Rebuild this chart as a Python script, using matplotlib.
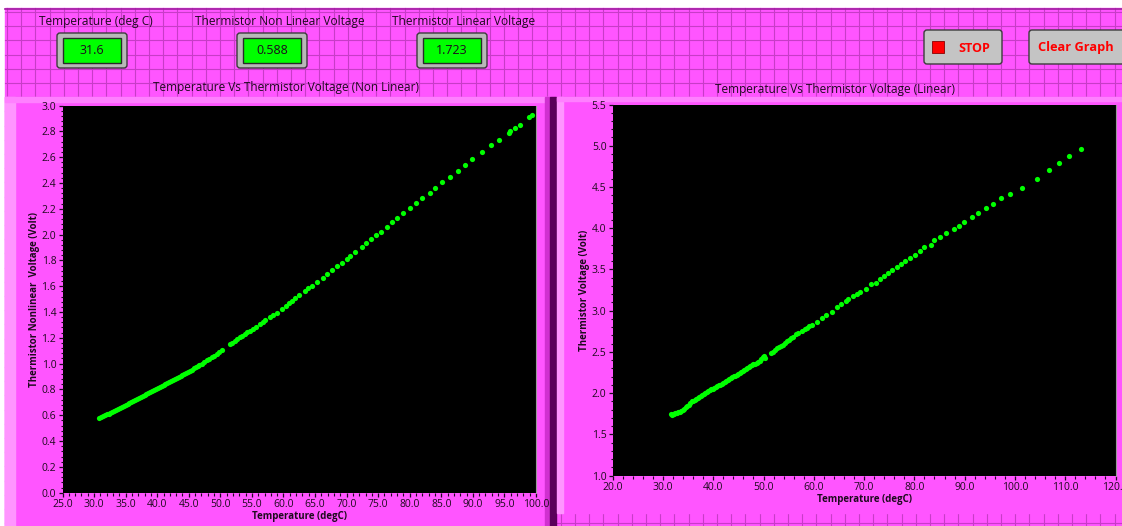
import numpy as np
import matplotlib
matplotlib.use("Agg")
import matplotlib.pyplot as plt
from matplotlib.patches import Rectangle, FancyBboxPatch
from matplotlib.ticker import MultipleLocator, FormatStrFormatter

W, H = 1122, 526

# readouts shown on the panel
temp_now = "31.6"
nonlin_now = "0.588"
lin_now = "1.723"

# temperature (degC) vs non linear thermistor voltage (V)
nl_temp = [30.8, 31.1, 31.4, 31.7, 32.0, 32.3, 32.6, 32.9, 33.2, 33.5,
           33.8, 34.1, 34.4, 34.7, 35.0, 35.3, 35.6, 35.9, 36.2, 36.5,
           36.8, 37.1, 37.4, 37.7, 38.0, 38.3, 38.6, 38.9, 39.2, 39.5,
           39.8, 40.1, 40.4, 40.7, 41.0, 41.3, 41.6, 41.9, 42.2, 42.5,
           42.8, 43.1, 43.4, 43.7, 44.0, 44.3, 44.6, 44.9, 45.2, 45.5,
           45.8, 46.1, 46.4, 46.7, 47.05, 47.4, 47.84, 48.2, 48.64, 49.0,
           49.43, 49.8, 50.22, 51.53, 51.9, 52.33, 52.7, 53.12, 53.5, 53.91,
           54.3, 54.7, 55.2, 55.65, 56.28, 56.7, 57.08, 57.87, 58.4, 58.93,
           59.72, 60.4, 60.9, 61.31, 61.83, 62.51, 63.41, 63.94, 64.47, 65.27,
           66.21, 66.9, 67.69, 68.48, 69.22, 70.0, 70.54, 71.33, 72.4, 73.08,
           73.87, 74.71, 75.5, 76.45, 77.24, 77.94, 79.0, 80.05, 81.0, 81.95,
           83.17, 83.96, 85.16, 86.38, 87.6, 88.8, 89.87, 91.4, 92.88, 94.19,
           95.68, 95.94, 96.73, 97.42, 98.9, 99.32]
nl_volt = [0.577, 0.584, 0.591, 0.599, 0.606, 0.613, 0.621, 0.628, 0.635, 0.643,
           0.650, 0.657, 0.665, 0.672, 0.680, 0.687, 0.695, 0.703, 0.710, 0.718,
           0.725, 0.733, 0.740, 0.748, 0.756, 0.764, 0.771, 0.779, 0.787, 0.794,
           0.802, 0.810, 0.818, 0.826, 0.834, 0.842, 0.850, 0.858, 0.865, 0.873,
           0.881, 0.890, 0.898, 0.906, 0.914, 0.922, 0.930, 0.938, 0.946, 0.954,
           0.963, 0.971, 0.979, 0.987, 0.997, 1.010, 1.028, 1.038, 1.049, 1.062,
           1.075, 1.090, 1.106, 1.150, 1.162, 1.175, 1.190, 1.204, 1.217, 1.230,
           1.243, 1.255, 1.272, 1.286, 1.307, 1.322, 1.338, 1.364, 1.377, 1.392,
           1.423, 1.449, 1.468, 1.485, 1.506, 1.532, 1.563, 1.584, 1.601, 1.632,
           1.666, 1.694, 1.723, 1.759, 1.780, 1.811, 1.834, 1.867, 1.901, 1.932,
           1.963, 1.997, 2.022, 2.061, 2.095, 2.126, 2.165, 2.203, 2.242, 2.281,
           2.324, 2.361, 2.407, 2.446, 2.492, 2.539, 2.583, 2.637, 2.691, 2.735,
           2.789, 2.802, 2.828, 2.849, 2.908, 2.924]

# temperature (degC) vs linearised thermistor voltage (V)
lin_temp = [31.5, 31.7, 31.9, 32.1, 32.4, 32.7, 33.0, 33.3, 33.6, 33.9,
            34.2, 34.5, 34.8, 35.1, 35.4, 35.7, 36.0, 36.3, 36.6, 36.9,
            37.2, 37.5, 37.8, 38.1, 38.4, 38.7, 39.0, 39.3, 39.6, 39.9,
            40.2, 40.5, 40.8, 41.1, 41.4, 41.7, 42.0, 42.3, 42.6, 42.9,
            43.2, 43.5, 43.8, 44.1, 44.4, 44.7, 45.0, 45.3, 45.6, 45.9,
            46.2, 46.5, 46.8, 47.1, 47.4, 47.7, 48.0, 48.3, 48.6, 48.9,
            49.2, 49.5, 49.8, 50.0, 50.2, 51.5, 51.9, 52.3, 52.7, 53.1,
            53.5, 53.9, 54.3, 54.7, 55.1, 55.5, 55.95, 56.49, 56.95, 57.63,
            58.2, 58.62, 59.1, 59.62, 60.61, 61.61, 62.46, 63.6, 64.65, 65.31,
            66.38, 66.84, 67.70, 68.57, 69.23, 70.29, 71.42, 72.42, 73.07, 73.87,
            74.67, 75.54, 76.46, 77.34, 78.19, 79.19, 80.05, 81.05, 81.91, 83.23,
            83.97, 85.1, 86.29, 87.81, 88.88, 89.8, 91.4, 92.73, 94.26, 95.57,
            97.24, 98.96, 101.35, 104.41, 106.73, 108.79, 110.84, 113.17]
lin_volt = [1.745, 1.735, 1.750, 1.742, 1.755, 1.762, 1.770, 1.778, 1.790, 1.800,
            1.812, 1.830, 1.848, 1.862, 1.880, 1.905, 1.900, 1.912, 1.925, 1.940,
            1.950, 1.962, 1.975, 1.985, 2.000, 2.012, 2.025, 2.035, 2.045, 2.055,
            2.065, 2.078, 2.088, 2.098, 2.105, 2.115, 2.128, 2.140, 2.152, 2.165,
            2.178, 2.190, 2.198, 2.205, 2.212, 2.220, 2.232, 2.245, 2.262, 2.275,
            2.285, 2.295, 2.308, 2.320, 2.332, 2.342, 2.350, 2.360, 2.370, 2.382,
            2.395, 2.410, 2.440, 2.452, 2.425, 2.490, 2.505, 2.525, 2.545, 2.560,
            2.575, 2.590, 2.610, 2.628, 2.645, 2.665, 2.687, 2.720, 2.728, 2.756,
            2.775, 2.796, 2.812, 2.829, 2.869, 2.910, 2.950, 2.990, 3.044, 3.084,
            3.120, 3.148, 3.181, 3.205, 3.229, 3.266, 3.323, 3.342, 3.384, 3.420,
            3.456, 3.497, 3.533, 3.561, 3.602, 3.634, 3.678, 3.718, 3.772, 3.800,
            3.860, 3.888, 3.942, 3.990, 4.027, 4.075, 4.131, 4.184, 4.245, 4.294,
            4.370, 4.410, 4.488, 4.597, 4.706, 4.791, 4.880, 4.956]

MAGENTA = "#FF55FF"
GRIDLINE = "#C73CC7"
TXT = "#1E0A1E"
FONT = ["Open Sans", "DejaVu Sans"]

plt.rcParams["font.family"] = FONT

fig = plt.figure(figsize=(W / 100, H / 100), dpi=100)

# panel background, drawn in pixel coordinates
bg = fig.add_axes([0, 0, 1, 1])
bg.set_xlim(0, W)
bg.set_ylim(H, 0)
bg.axis("off")
bg.add_patch(Rectangle((0, 0), W, H, color="white", zorder=0))
bg.add_patch(Rectangle((5, 8), W, H, color=MAGENTA, zorder=1))
for gx in np.arange(7, W, 14.2):
    bg.plot([gx, gx], [8, H], color=GRIDLINE, lw=0.8, zorder=2)
for gy in np.arange(12, H, 14.2):
    bg.plot([5, W], [gy, gy], color=GRIDLINE, lw=0.8, zorder=2)
bg.plot([5, W], [8.5, 8.5], color="#A020A0", lw=1.2, zorder=3)

# graph frames
bg.add_patch(Rectangle((5, 97), 546, H - 97, color=MAGENTA, zorder=3))
bg.add_patch(Rectangle((5, 97), 10, H - 97, color="#FF95FF", zorder=4))
bg.add_patch(Rectangle((5, 97), 546, 5, color="#FF80FF", zorder=4))
bg.add_patch(Rectangle((545, 97), 5, H - 97, color="#D030D0", zorder=4))
bg.add_patch(Rectangle((550, 97), 6, H - 97, color="#5A005A", zorder=4))
bg.add_patch(Rectangle((557, 97), W - 557, 416, color=MAGENTA, zorder=3))
bg.add_patch(Rectangle((557, 97), 6, 416, color="#FF95FF", zorder=4))
bg.add_patch(Rectangle((557, 97), W - 557, 4, color="#FF80FF", zorder=4))

# numeric indicators
indicators = [("Temperature (deg C)", temp_now, 96, 92),
              ("Thermistor Non Linear Voltage", nonlin_now, 280, 272),
              ("Thermistor Linear Voltage", lin_now, 464, 452)]
for label, value, lx, bx in indicators:
    bg.text(lx, 22, label, ha="center", va="center", fontsize=8.6, color=TXT, zorder=6)
    bg.add_patch(FancyBboxPatch((bx - 35, 33), 70, 35, boxstyle="round,pad=0,rounding_size=3",
                                fc="#B8B8B8", ec="#3C3C3C", lw=1.0, zorder=5))
    bg.add_patch(Rectangle((bx - 29, 38), 58, 25, fc="#00FF00", ec="#2A2A2A", lw=1.0, zorder=6))
    bg.text(bx, 51, value, ha="center", va="center", fontsize=9, color=TXT, zorder=7)

# buttons
bg.add_patch(FancyBboxPatch((924, 30), 78, 34, boxstyle="round,pad=0,rounding_size=3",
                            fc="#C4C4C4", ec="#3C3C3C", lw=1.0, zorder=5))
bg.add_patch(Rectangle((932, 41), 12, 12, fc="#FF0000", ec="#8A0000", lw=0.6, zorder=6))
bg.text(974, 48, "STOP", ha="center", va="center", fontsize=9, fontweight="bold",
        color="#FF0000", zorder=7)
bg.add_patch(FancyBboxPatch((1029, 30), 100, 34, boxstyle="round,pad=0,rounding_size=3",
                            fc="#C4C4C4", ec="#3C3C3C", lw=1.0, zorder=5))
bg.text(1038, 47, "Clear Graph", ha="left", va="center", fontsize=9.2, fontweight="bold",
        color="#FF0000", zorder=7)

# graph titles
bg.text(286, 88, "Temperature Vs Thermistor Voltage (Non Linear)", ha="center", va="center",
        fontsize=8.5, color=TXT, zorder=6)
bg.text(835, 90, "Temperature Vs Thermistor Voltage (Linear)", ha="center", va="center",
        fontsize=8.5, color=TXT, zorder=6)


def px_axes(x0, y0, x1, y1):
    return fig.add_axes([x0 / W, 1 - y1 / H, (x1 - x0) / W, (y1 - y0) / H])


def style_graph(ax, xlim, ylim, xmaj, xmin, ymaj, ymin, xlabel, ylabel, ylabpad):
    ax.set_facecolor("black")
    ax.set_xlim(*xlim)
    ax.set_ylim(*ylim)
    ax.xaxis.set_major_locator(MultipleLocator(xmaj))
    ax.xaxis.set_minor_locator(MultipleLocator(xmin))
    ax.yaxis.set_major_locator(MultipleLocator(ymaj))
    ax.yaxis.set_minor_locator(MultipleLocator(ymin))
    ax.xaxis.set_major_formatter(FormatStrFormatter("%.1f"))
    ax.yaxis.set_major_formatter(FormatStrFormatter("%.1f"))
    for s in ax.spines.values():
        s.set_visible(False)
    ax.spines["right"].set_visible(True)
    ax.spines["right"].set_color("#9A9A9A")
    ax.spines["right"].set_linewidth(0.8)
    ax.tick_params(which="major", direction="out", length=3, width=0.9, color=TXT,
                   labelsize=7.5, labelcolor=TXT, pad=1.5)
    ax.tick_params(which="minor", direction="out", length=1.8, width=0.8, color=TXT)
    ax.set_xlabel(xlabel, fontsize=7, fontweight="bold", color=TXT, labelpad=1)
    ax.set_ylabel(ylabel, fontsize=7, fontweight="bold", color=TXT, labelpad=ylabpad)


ax1 = px_axes(62.5, 105.5, 536, 492.7)
style_graph(ax1, (25, 100), (0, 3.0), 5, 1, 0.2, 0.04, "Temperature (degC)",
            "Thermistor Nonlinear  Voltage (Volt)", 1)
ax1.scatter(nl_temp, nl_volt, s=14, color="#00FF00", linewidths=0, clip_on=True, zorder=3)

ax2 = px_axes(612.7, 104.5, 1115.5, 475.7)
style_graph(ax2, (20, 120), (1.0, 5.5), 10, 2, 0.5, 0.1, "Temperature (degC)",
            "Thermistor Voltage (Volt)", 1)
ax2.scatter(lin_temp, lin_volt, s=14, color="#00FF00", linewidths=0, clip_on=True, zorder=3)

fig.savefig("out.png", dpi=100, facecolor="white")
